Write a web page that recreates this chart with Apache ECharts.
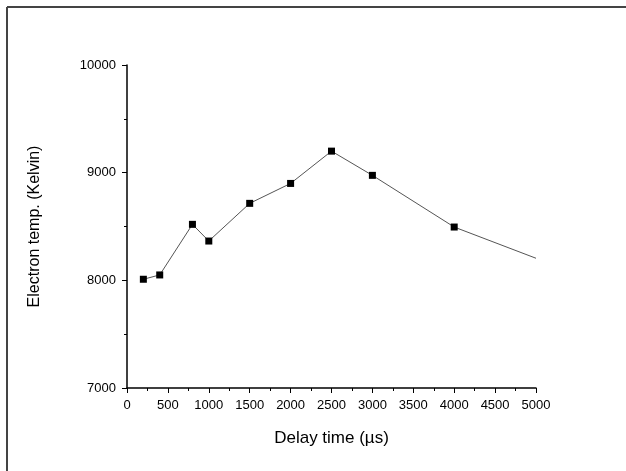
<!DOCTYPE html>
<html>
<head>
<meta charset="utf-8">
<script src="https://cdn.jsdelivr.net/npm/echarts@6/dist/echarts.min.js"></script>
<style>
  html, body { margin: 0; padding: 0; background: #fff; }
  #chart { width: 626px; height: 471px; }
</style>
</head>
<body>
<div id="chart"></div>
<script>
// delay time (µs) and electron temperature (K)
const delayTimes = [200, 400, 800, 1000, 1500, 2000, 2500, 3000, 4000, 5000]
const electronTemps = [8010, 8050, 8520, 8365, 8715, 8900, 9200, 8975, 8495, 8205]
// the last point (5000) is drawn as line only, no marker
const markerless = [5000]

const chart = echarts.init(document.getElementById('chart'))
const font = 'Liberation Sans, Arial, sans-serif'
const plain = (v) => String(v) // no thousands separator

const option = {
  animation: false,
  backgroundColor: '#fff',
  grid: { left: 127, right: 90, top: 65, bottom: 83 },
  graphic: [
    { type: 'line', shape: { x1: 7, y1: 7, x2: 626, y2: 7 }, style: { stroke: '#444', lineWidth: 2 } },
    { type: 'line', shape: { x1: 7, y1: 7, x2: 7, y2: 471 }, style: { stroke: '#444', lineWidth: 2 } }
  ],
  xAxis: {
    type: 'value',
    min: 0,
    max: 5000,
    interval: 500,
    name: 'Delay time (\u00b5s)',
    nameLocation: 'middle',
    nameGap: 42,
    nameTextStyle: { fontFamily: font, fontSize: 17, color: '#000' },
    axisLine: { show: true, onZero: false, lineStyle: { color: '#000', width: 1.5 } },
    axisTick: { show: true, inside: false, length: 5, lineStyle: { color: '#000' } },
    minorTick: { show: true, splitNumber: 2, length: 3, lineStyle: { color: '#000' } },
    axisLabel: { fontFamily: font, fontSize: 13, color: '#000', margin: 11, formatter: plain },
    splitLine: { show: false }
  },
  yAxis: {
    type: 'value',
    min: 7000,
    max: 10000,
    interval: 1000,
    name: 'Electron temp. (Kelvin)',
    nameLocation: 'middle',
    nameGap: 84,
    nameRotate: 90,
    nameTextStyle: { fontFamily: font, fontSize: 16, color: '#000' },
    axisLine: { show: true, onZero: false, lineStyle: { color: '#000', width: 1.5 } },
    axisTick: { show: true, inside: false, length: 5, lineStyle: { color: '#000' } },
    minorTick: { show: true, splitNumber: 2, length: 3, lineStyle: { color: '#000' } },
    axisLabel: { fontFamily: font, fontSize: 13, color: '#000', margin: 11, formatter: plain },
    splitLine: { show: false }
  },
  series: [
    {
      type: 'line',
      data: delayTimes.map((t, i) => [t, electronTemps[i]]),
      symbol: (value) => markerless.includes(value[0]) ? 'none' : 'rect',
      symbolSize: 7,
      showAllSymbol: true,
      lineStyle: { color: '#555', width: 1 },
      itemStyle: { color: '#000', borderColor: '#000', borderWidth: 0 }
    }
  ]
}

chart.setOption(option)
</script>
</body>
</html>
